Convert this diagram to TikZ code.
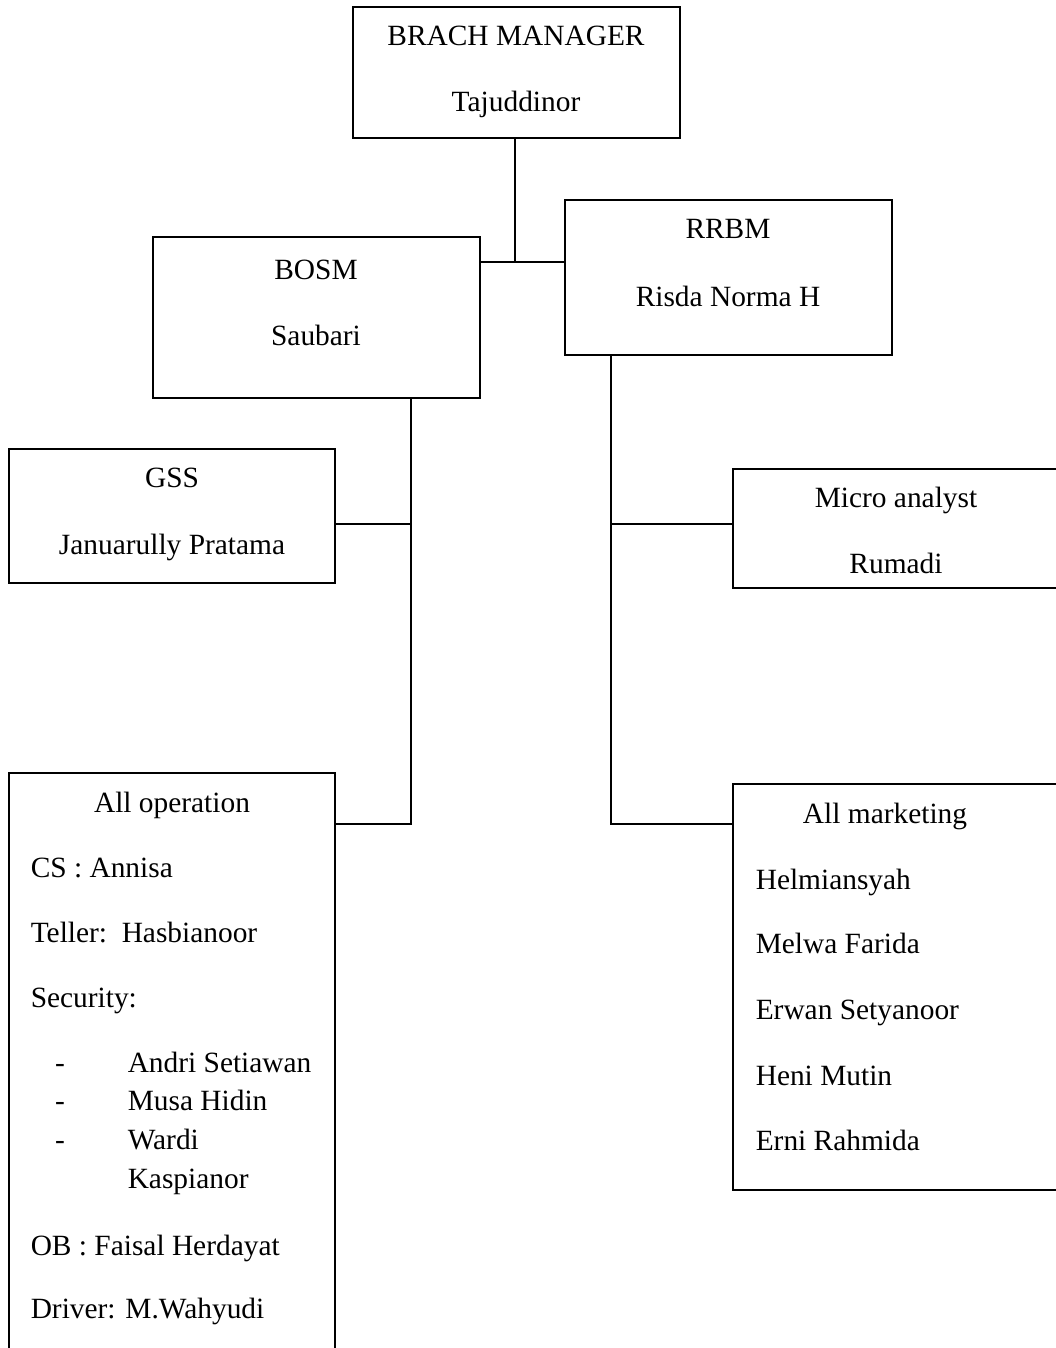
\documentclass[tikz,border=0pt]{standalone}
\usepackage{fontspec}
\setmainfont{Liberation Serif}
\usepackage{tikz}
\usetikzlibrary{positioning}

\begin{document}
\begin{tikzpicture}[x=0.025cm, y=-0.025cm, line width=1.1pt,
  box/.style={rectangle, draw, inner sep=0pt},
  txt/.style={inner sep=0pt, anchor=mid, font=\fontsize{20.9}{25}\selectfont},
  lst/.style={inner sep=0pt, anchor=mid west, font=\fontsize{20.9}{25}\selectfont}]
\useasboundingbox (0,0) rectangle (1056,1348);
\clip (0,0) rectangle (1056,1348);

% boxes
\node[box, minimum width=8.175cm, minimum height=3.275cm] (bm) at (516.5,72.5) {};
\node[box, minimum width=8.175cm, minimum height=4.025cm] (bosm) at (316.5,317.5) {};
\node[box, minimum width=8.175cm, minimum height=3.875cm] (rrbm) at (728.5,277.5) {};
\node[box, minimum width=8.15cm, minimum height=3.35cm] (gss) at (172,516) {};
\node[box, minimum width=8.175cm, minimum height=2.975cm] (micro) at (896.5,528.5) {};
\node[box, minimum width=8.15cm, minimum height=15.675cm] (allop) at (172,1086.5) {};
\node[box, minimum width=8.175cm, minimum height=10.15cm] (allmkt) at (896.5,987) {};

% texts
\node[txt] (bm1) at (516,42) {BRACH MANAGER};
\node[txt] (bm2) at (516,108) {Tajuddinor};
\node[txt] (bosm1) at (316,276) {BOSM};
\node[txt] (bosm2) at (316,342) {Saubari};
\node[txt] (rrbm1) at (728,235) {RRBM};
\node[txt] (rrbm2) at (728,303) {Risda Norma H};
\node[txt] (gss1) at (172,484) {GSS};
\node[txt] (gss2) at (172,551) {Januarully Pratama};
\node[txt] (micro1) at (896,504) {Micro analyst};
\node[txt] (micro2) at (896,570) {Rumadi};

\node[txt] (op0) at (172,809) {All operation};
\node[lst] (op1) at (30,874) {CS : Annisa};
\node[lst] (op2) at (30,939) {Teller:\ \ Hasbianoor};
\node[lst] (op3) at (30,1004) {Security:};
\node[txt] (d1) at (60,1069) {-};
\node[txt] (d2) at (60,1107) {-};
\node[txt] (d3) at (60,1146) {-};
\node[lst] (op4) at (127,1069) {Andri Setiawan};
\node[lst] (op5) at (127,1107) {Musa Hidin};
\node[lst] (op6) at (127,1146) {Wardi};
\node[lst] (op7) at (127,1185) {Kaspianor};
\node[lst] (op8) at (30,1252) {OB : Faisal Herdayat};
\node[lst] (op9) at (30,1315) {Driver: M.Wahyudi};

\node[txt] (mk0) at (885,820) {All marketing};
\node[lst] (mk1) at (755,886) {Helmiansyah};
\node[lst] (mk2) at (755,950) {Melwa Farida};
\node[lst] (mk3) at (755,1016) {Erwan Setyanoor};
\node[lst] (mk4) at (755,1082) {Heni Mutin};
\node[lst] (mk5) at (755,1147) {Erni Rahmida};

% connectors
\coordinate (j1) at (515,262);
\coordinate (j2) at (411,824);
\coordinate (j3) at (611,824);
\coordinate (g) at (411,524);
\coordinate (m) at (611,524);
\draw (bm.south -| j1) -- (j1);
\draw (bosm.east |- j1) -- (rrbm.west |- j1);
\draw (bosm.south -| j2) -- (j2) -- (allop.east |- j2);
\draw (gss.east |- g) -- (g);
\draw (rrbm.south -| j3) -- (j3) -- (allmkt.west |- j3);
\draw (m) -- (micro.west |- m);
\end{tikzpicture}
\end{document}
